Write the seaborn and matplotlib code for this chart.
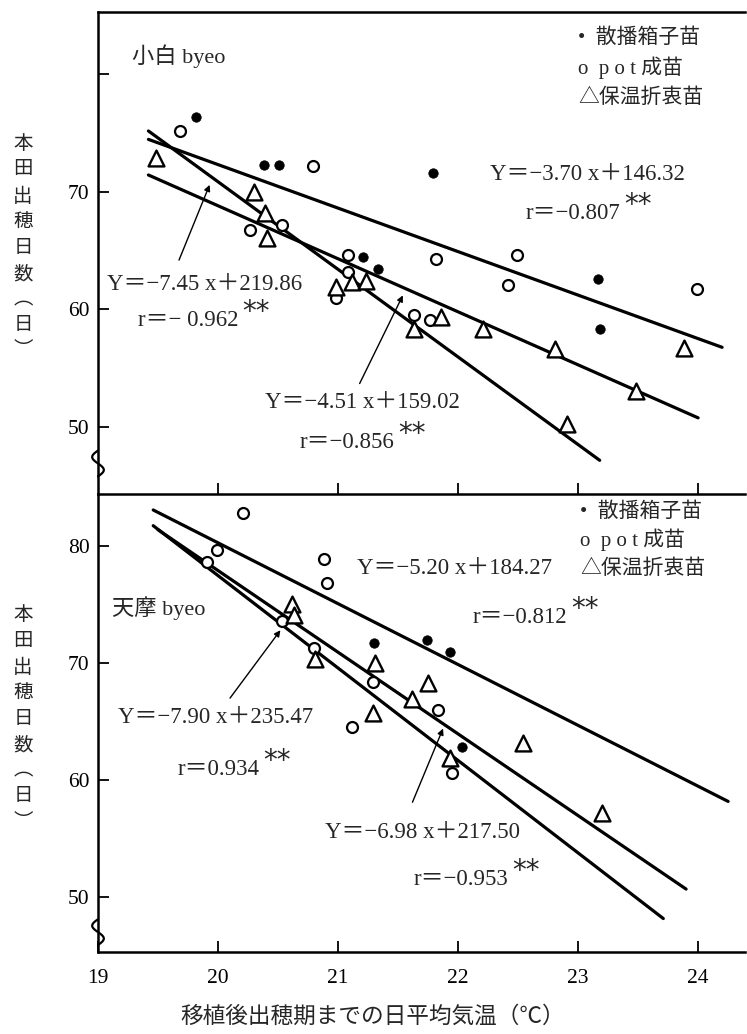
import numpy as np
import pandas as pd
import matplotlib
matplotlib.use("Agg")
import matplotlib.pyplot as plt
import matplotlib.transforms as mtransforms
import seaborn as sns

# ---------------- data ----------------
# 小白 byeo : mean daily temperature after transplanting (°C) vs. days to heading
kohaku_box_x = [19.82, 20.38, 20.51, 21.21, 21.33, 21.79, 23.17, 23.18]
kohaku_box_y = [76.4, 72.3, 72.3, 64.5, 63.4, 71.6, 62.6, 58.3]
kohaku_pot_x = [19.68, 20.79, 20.27, 20.53, 21.08, 21.08, 20.98, 21.63, 21.77, 21.82, 22.49, 22.42, 23.99]
kohaku_pot_y = [75.2, 72.2, 66.8, 67.2, 64.6, 63.2, 61.0, 59.5, 59.1, 64.3, 64.6, 62.1, 61.7]
kohaku_semi_x = [19.48, 20.30, 20.39, 20.41, 20.98, 21.12, 21.23, 21.63, 21.86, 22.21, 22.81, 23.48, 23.88, 22.91]
kohaku_semi_y = [72.9, 70.0, 68.2, 66.1, 61.9, 62.3, 62.4, 58.3, 59.4, 58.3, 56.6, 53.1, 56.7, 50.3]

kohaku_slope = [-3.70, -7.45, -4.51]
kohaku_icpt = [146.32, 219.86, 159.02]
kohaku_r = ["−0.807", "− 0.962", "−0.856"]
kohaku_xmin = [19.42, 19.42, 19.42]
kohaku_xmax = [24.20, 23.18, 24.00]

# 天摩 byeo
tenma_box_x = [21.30, 21.74, 21.93, 22.03]
tenma_box_y = [71.7, 72.0, 70.9, 62.8]
tenma_pot_x = [20.21, 19.99, 19.91, 20.88, 20.91, 20.53, 20.80, 21.29, 21.12, 21.83, 21.95]
tenma_pot_y = [82.8, 79.7, 78.6, 78.9, 76.8, 73.6, 71.3, 68.4, 64.5, 66.0, 60.6]
tenma_semi_x = [20.62, 20.63, 20.81, 21.31, 21.29, 21.62, 21.75, 22.54, 21.93, 23.20]
tenma_semi_y = [75.0, 74.1, 70.3, 70.0, 65.7, 66.9, 68.3, 63.2, 61.9, 57.2]

tenma_slope = [-5.20, -7.90, -6.98]
tenma_icpt = [184.27, 235.47, 217.50]
tenma_r = ["−0.812", "0.934", "−0.953"]
tenma_xmin = [19.46, 19.46, 19.50]
tenma_xmax = [24.25, 23.71, 23.90]

legend_labels = ["•  散播箱子苗", "o  p o t 成苗", "△保温折衷苗"]
ylabel_text = "本\n田\n出\n穂\n日\n数\n︵\n日\n︶"
xlabel_text = "移植後出穂期までの日平均気温（℃）"

# ---------------- style ----------------
sns.set_style("ticks")
plt.rcParams['font.family'] = ['Liberation Serif', 'Noto Sans CJK JP', 'DejaVu Sans']
plt.rcParams['axes.unicode_minus'] = True

fig = plt.figure(figsize=(7.47, 10.34), dpi=100)
ax1 = fig.add_axes([0.1312, 0.5222, 0.866, 0.4662])
ax2 = fig.add_axes([0.1312, 0.0793, 0.866, 0.4429])


def eq_text(s, b):
    return f"Y＝−{abs(s):.2f} x＋{b:.2f}"


def draw_panel(ax, box, pot, semi, slopes, icpts, xmin, xmax):
    for s, b, x0, x1 in zip(slopes, icpts, xmin, xmax):
        xs = np.array([x0, x1])
        line = pd.DataFrame({"t": xs, "d": s * xs + b})
        sns.lineplot(data=line, x="t", y="d", ax=ax, color="black",
                     lw=2.3, zorder=2, estimator=None, sort=False)
    sns.scatterplot(x=box[0], y=box[1], ax=ax, marker="o", s=46,
                    color="black", edgecolor="black", zorder=5)
    sns.scatterplot(x=pot[0], y=pot[1], ax=ax, marker="o", s=62,
                    color="white", edgecolor="black", linewidth=1.6, zorder=4)
    sns.scatterplot(x=semi[0], y=semi[1], ax=ax, marker="^", s=130,
                    color="white", edgecolor="black", linewidth=1.7, zorder=4)


draw_panel(ax1, (kohaku_box_x, kohaku_box_y), (kohaku_pot_x, kohaku_pot_y),
           (kohaku_semi_x, kohaku_semi_y), kohaku_slope, kohaku_icpt,
           kohaku_xmin, kohaku_xmax)
draw_panel(ax2, (tenma_box_x, tenma_box_y), (tenma_pot_x, tenma_pot_y),
           (tenma_semi_x, tenma_semi_y), tenma_slope, tenma_icpt,
           tenma_xmin, tenma_xmax)

# ---------------- axes ----------------
ax1.set_xlim(19, 24.39)
ax2.set_xlim(19, 24.39)
ax1.set_ylim(44.3, 85.3)
ax2.set_ylim(45.3, 84.44)

ax1.set_xticks([20, 21, 22, 23, 24])
ax1.set_xticklabels([])
ax2.set_xticks([19, 20, 21, 22, 23, 24])
ax1.set_yticks([50, 60, 70, 80])
ax1.set_yticklabels(["50", "60", "70", ""])
ax2.set_yticks([50, 60, 70, 80])

for ax in (ax1, ax2):
    ax.tick_params(axis="both", direction="in", length=8, width=1.3,
                   labelsize=15.5, colors="black")
    ax.tick_params(axis="y", pad=6)
    ax.tick_params(axis="x", pad=12)
    ax.spines["right"].set_visible(False)
    for sp in ("left", "bottom", "top"):
        ax.spines[sp].set_linewidth(1.8)
        ax.spines[sp].set_color("black")
    ax.set_xlabel("")
    ax.set_ylabel(ylabel_text, rotation=0, fontsize=14, linespacing=1.65,
                  va="center", ha="center")
    ax.patch.set_alpha(0)
ax2.spines["top"].set_visible(False)

ax1.yaxis.set_label_coords(-0.116, 0.512)
ax2.yaxis.set_label_coords(-0.116, 0.51)

ax2.set_xlabel(xlabel_text, fontsize=16.3)
ax2.xaxis.set_label_coords(0.425, -0.118)

# axis-break marks (small S-curves) on the left spines
tt = np.linspace(-1, 1, 40)
for ax, yb in ((ax1, 46.9), (ax2, 47.0)):
    trans = mtransforms.blended_transform_factory(ax.transAxes, ax.transData)
    ax.plot(-0.009 * np.sin(np.pi * tt), yb + 1.1 * tt, transform=trans,
            color="black", lw=1.6, clip_on=False, zorder=6)

# ---------------- annotations ----------------
FS = 16.5
CJK = ['Liberation Serif', 'Noto Sans CJK JP']


def legend_block(ax, x, ys):
    for lab, y in zip(legend_labels, ys):
        ax.text(x, y, lab, fontsize=15, va="center", ha="left", family=CJK)


def r_label(ax, x, y, r):
    t = ax.text(x, y, f"r＝{r}", fontsize=FS, va="center", ha="left", family=CJK)
    ax.annotate("**", xy=(1.0, 0.5), xycoords=t, xytext=(3, 6),
                textcoords="offset points", fontsize=20, va="center",
                ha="left", family="DejaVu Sans")


def arrow(ax, tail, head):
    ax.annotate("", xy=head, xytext=tail,
                arrowprops=dict(arrowstyle="-|>", color="black", lw=1.0,
                                mutation_scale=9, shrinkA=0, shrinkB=0))


# 小白 byeo
ax1.text(19.28, 81.5, "小白 byeo", fontsize=16, va="center", ha="left", family=CJK)
legend_block(ax1, 23.0, [83.1, 80.6, 78.0])
ax1.text(22.27, 71.45, eq_text(kohaku_slope[0], kohaku_icpt[0]), fontsize=FS,
         va="center", ha="left", family=CJK)
r_label(ax1, 22.56, 68.2, kohaku_r[0])
ax1.text(19.075, 62.1, eq_text(kohaku_slope[1], kohaku_icpt[1]), fontsize=FS,
         va="center", ha="left", family=CJK)
r_label(ax1, 19.33, 59.1, kohaku_r[1])
ax1.text(20.39, 52.1, eq_text(kohaku_slope[2], kohaku_icpt[2]), fontsize=FS,
         va="center", ha="left", family=CJK)
r_label(ax1, 20.68, 48.7, kohaku_r[2])
arrow(ax1, (19.675, 64.2), (19.93, 70.6))
arrow(ax1, (21.18, 53.7), (21.54, 61.2))

# 天摩 byeo
ax2.text(19.12, 74.7, "天摩 byeo", fontsize=16, va="center", ha="left", family=CJK)
legend_block(ax2, 23.02, [82.9, 80.5, 78.0])
ax2.text(21.16, 78.1, eq_text(tenma_slope[0], tenma_icpt[0]), fontsize=FS,
         va="center", ha="left", family=CJK)
r_label(ax2, 22.12, 73.9, tenma_r[0])
ax2.text(19.17, 65.3, eq_text(tenma_slope[1], tenma_icpt[1]), fontsize=FS,
         va="center", ha="left", family=CJK)
r_label(ax2, 19.66, 60.9, tenma_r[1])
ax2.text(20.89, 55.5, eq_text(tenma_slope[2], tenma_icpt[2]), fontsize=FS,
         va="center", ha="left", family=CJK)
r_label(ax2, 21.63, 51.5, tenma_r[2])
arrow(ax2, (20.10, 67.0), (20.52, 72.8))
arrow(ax2, (21.62, 58.1), (21.875, 64.4))

fig.savefig("out.png", dpi=100, facecolor="white")
